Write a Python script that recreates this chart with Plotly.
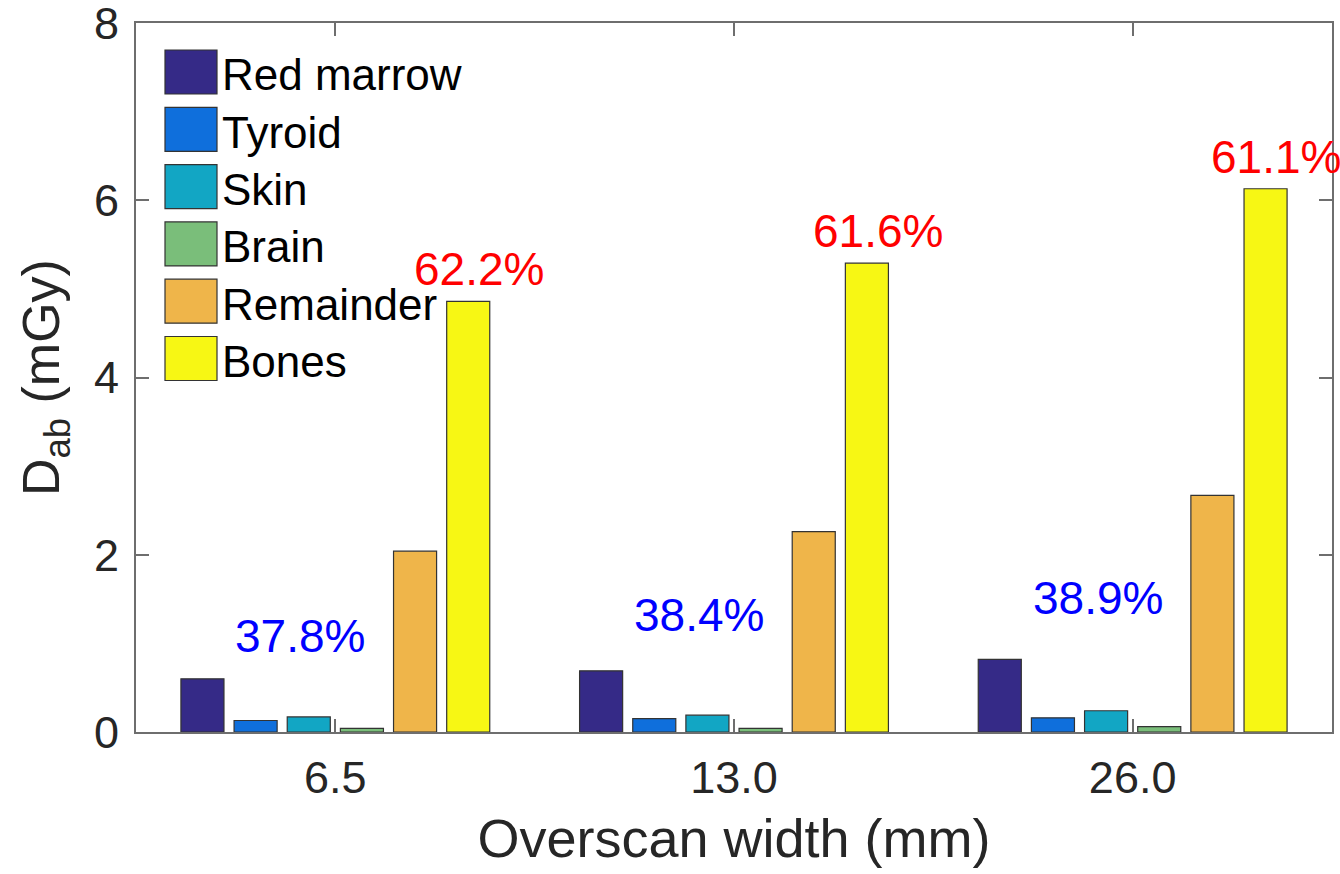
import plotly.graph_objects as go

categories = ["6.5", "13.0", "26.0"]
organs = ["Red marrow", "Tyroid", "Skin", "Brain", "Remainder", "Bones"]
red_marrow = [0.60, 0.69, 0.82]
tyroid = [0.13, 0.15, 0.16]
skin = [0.17, 0.19, 0.24]
brain = [0.04, 0.04, 0.06]
remainder = [2.04, 2.26, 2.67]
bones = [4.86, 5.29, 6.13]
series = [red_marrow, tyroid, skin, brain, remainder, bones]
colors = ["#352A87", "#0F6FDC", "#12A6C4", "#7ABE7A", "#EFB54A", "#F7F714"]

pct_others = ["37.8%", "38.4%", "38.9%"]
pct_bones = ["62.2%", "61.6%", "61.1%"]
other_label_y = [1.08, 1.32, 1.51]

yticks = [0, 2, 4, 6, 8]

FONT = "Liberation Sans, Arial, sans-serif"
TXT = "#262626"

fig = go.Figure()
for name, vals, col in zip(organs, series, colors):
    fig.add_trace(go.Bar(
        x=categories, y=vals, name=name,
        marker=dict(color=col, line=dict(color="#333333", width=1.2)),
        showlegend=False,
    ))

annotations = []
for i, (po, pb) in enumerate(zip(pct_others, pct_bones)):
    annotations.append(dict(x=i - 0.088, y=other_label_y[i], xref="x", yref="y",
                            text=po, showarrow=False, yanchor="middle",
                            font=dict(family=FONT, size=46, color="#0000FF")))
    annotations.append(dict(x=i + 0.36, y=bones[i] + 0.36, xref="x", yref="y",
                            text=pb, showarrow=False, yanchor="middle",
                            font=dict(family=FONT, size=46, color="#FF0000")))

# manual legend with large swatches
plot_w = 1340 - 136 - 8
plot_h = 874 - 23 - 142
shapes = []
for k, (name, col) in enumerate(zip(organs, colors)):
    top_px = 50 + 57.3 * k - 23
    y0 = 1 - (top_px + 44) / plot_h
    y1 = 1 - top_px / plot_h
    shapes.append(dict(type="rect", xref="paper", yref="paper",
                       x0=(165 - 136) / plot_w, x1=(217 - 136) / plot_w,
                       y0=y0, y1=y1, fillcolor=col,
                       line=dict(color="#333333", width=1.2)))
    annotations.append(dict(x=(220 - 136) / plot_w, y=(y0 + y1) / 2 - 0.004,
                            xref="paper", yref="paper", text=name,
                            showarrow=False, xanchor="left", yanchor="middle",
                            font=dict(family=FONT, size=44, color="#000000")))

fig.update_layout(
    width=1340, height=874,
    margin=dict(l=136, r=8, t=23, b=142),
    paper_bgcolor="white", plot_bgcolor="white",
    barmode="group", bargap=0.2, bargroupgap=0.19,
    font=dict(family=FONT, color=TXT),
    annotations=annotations, shapes=shapes,
    xaxis=dict(
        type="category", range=[-0.5, 2.5], automargin=False,
        showline=True, linecolor="#6E6E6E", linewidth=2, mirror="ticks",
        ticks="inside", ticklen=13, tickwidth=1.5, tickcolor="#6E6E6E",
        tickfont=dict(family=FONT, size=45, color=TXT),
        ticklabelstandoff=5, ticklabeloverflow="allow",
        showgrid=False, zeroline=False,
        title=dict(text="Overscan width (mm)", standoff=17,
                   font=dict(family=FONT, size=54, color=TXT)),
    ),
    yaxis=dict(
        range=[0, 8], tickvals=yticks, automargin=False,
        showline=True, linecolor="#6E6E6E", linewidth=2, mirror="ticks",
        ticks="inside", ticklen=13, tickwidth=1.5, tickcolor="#6E6E6E",
        tickfont=dict(family=FONT, size=45, color=TXT),
        ticklabelstandoff=6, ticklabeloverflow="allow",
        showgrid=False, zeroline=False,
        title=dict(text="D<sub>ab</sub> (mGy)", standoff=18,
                   font=dict(family=FONT, size=52, color=TXT)),
    ),
)

fig.write_html("out.html")
